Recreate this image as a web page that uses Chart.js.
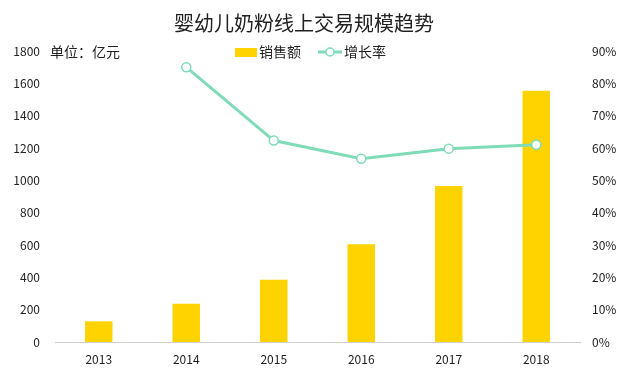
<!DOCTYPE html>
<html>
<head>
<meta charset="utf-8">
<script src="https://cdn.jsdelivr.net/npm/chart.js@4"></script>
<style>
  body { margin: 0; background: #fff; }
  #wrap { width: 628px; height: 376px; }
</style>
</head>
<body>
<div id="wrap"><canvas id="chart" width="628" height="376"></canvas></div>
<script>
const years = ["2013", "2014", "2015", "2016", "2017", "2018"];
const sales = [128, 237, 385, 604, 965, 1554];
const growth = [null, 85, 62.3, 56.7, 59.8, 61];

const FONT = "'Noto Sans CJK SC', 'Noto Sans', sans-serif";
const YELLOW = "#FFD300";
const MINT = "#7FDBB8";

const overlay = {
  id: "overlay",
  afterDraw(chart) {
    const ctx = chart.ctx;
    ctx.save();
    ctx.textBaseline = "middle";
    ctx.fillStyle = "#222";
    ctx.font = "20px " + FONT;
    ctx.textAlign = "center";
    ctx.fillText("婴幼儿奶粉线上交易规模趋势", 304, 23);

    ctx.font = "14px " + FONT;
    ctx.textAlign = "left";
    ctx.fillText("单位：亿元", 50, 52);

    // legend
    ctx.fillStyle = YELLOW;
    ctx.fillRect(235, 48, 22, 9);
    ctx.fillStyle = "#222";
    ctx.fillText("销售额", 259, 52);

    ctx.strokeStyle = MINT;
    ctx.lineWidth = 3;
    ctx.beginPath();
    ctx.moveTo(318, 52);
    ctx.lineTo(342, 52);
    ctx.stroke();
    ctx.beginPath();
    ctx.arc(330, 52, 4, 0, Math.PI * 2);
    ctx.fillStyle = "#fff";
    ctx.fill();
    ctx.lineWidth = 1.5;
    ctx.stroke();
    ctx.fillStyle = "#222";
    ctx.fillText("增长率", 344, 52);
    ctx.restore();
  }
};

new Chart(document.getElementById("chart"), {
  data: {
    labels: years,
    datasets: [
      {
        type: "line",
        label: "增长率",
        data: growth,
        yAxisID: "y1",
        borderColor: MINT,
        borderWidth: 3,
        pointRadius: 4.5,
        pointBorderWidth: 1.5,
        pointBackgroundColor: "#fff",
        pointBorderColor: MINT,
        tension: 0,
        order: 0
      },
      {
        type: "bar",
        label: "销售额",
        data: sales,
        yAxisID: "y",
        backgroundColor: YELLOW,
        categoryPercentage: 1,
        barPercentage: 0.314,
        order: 1
      }
    ]
  },
  options: {
    responsive: false,
    animation: false,
    layout: { padding: { top: 51, left: 0, right: 0, bottom: 0 } },
    plugins: { legend: { display: false }, title: { display: false }, tooltip: { enabled: false } },
    scales: {
      x: {
        grid: { display: false, drawTicks: false },
        border: { display: true, color: "#d0d0d0", width: 1 },
        ticks: { color: "#222", font: { size: 12, family: FONT }, padding: 10 },
        afterFit(s) { s.height = 34; }
      },
      y: {
        position: "left",
        min: 0, max: 1800,
        grid: { display: false, drawTicks: false },
        border: { display: false },
        ticks: {
          stepSize: 200, color: "#222", font: { size: 12, family: FONT }, padding: 15,
          callback: v => String(v)
        },
        afterFit(s) { s.width = 55; }
      },
      y1: {
        position: "right",
        min: 0, max: 90,
        grid: { display: false, drawTicks: false },
        border: { display: false },
        ticks: {
          stepSize: 10, color: "#222", font: { size: 12, family: FONT }, padding: 12,
          callback: v => v + "%"
        },
        afterFit(s) { s.width = 48; }
      }
    }
  },
  plugins: [overlay]
});
</script>
</body>
</html>
